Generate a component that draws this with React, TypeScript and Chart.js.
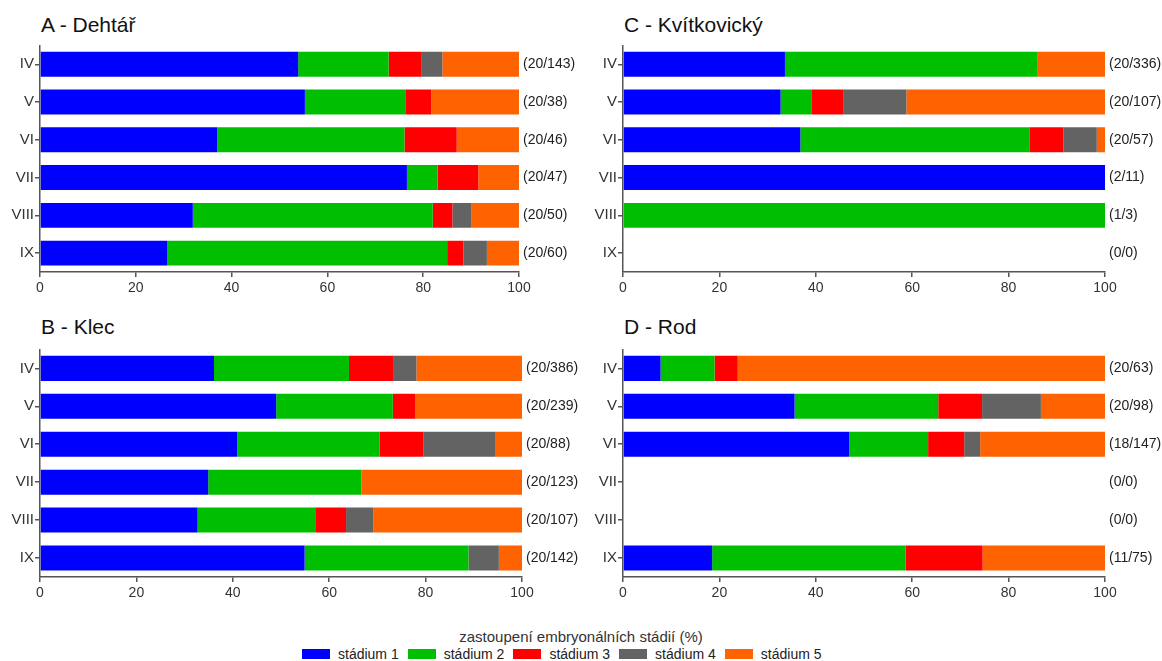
import React, { useEffect, useRef } from "react";
import { Chart, registerables } from "chart.js";

Chart.register(...registerables);

const FONT = "'Liberation Sans', Arial, Helvetica, sans-serif";
Chart.defaults.font.family = FONT;

const months = ["IV", "V", "VI", "VII", "VIII", "IX"];
const stageLabels = ["stádium 1", "stádium 2", "stádium 3", "stádium 4", "stádium 5"];
const stageColors = ["#0000FF", "#00BF00", "#FF0000", "#636363", "#FF6200"];
const xTitle = "zastoupení embryonálních stádií (%)";

// A - Dehtář
const dehtarS1 = [53.9, 55.3, 37.0, 76.6, 31.9, 26.6];
const dehtarS2 = [18.9, 21.1, 39.1, 6.4, 50.1, 58.4];
const dehtarS3 = [6.9, 5.3, 10.9, 8.5, 4.1, 3.4];
const dehtarS4 = [4.3, 0, 0, 0, 3.9, 4.9];
const dehtarS5 = [16.0, 18.3, 13.0, 8.5, 10.0, 6.7];
const dehtarCounts = ["(20/143)", "(20/38)", "(20/46)", "(20/47)", "(20/50)", "(20/60)"];

// B - Klec
const klecS1 = [36.1, 49.0, 40.9, 34.9, 32.7, 54.9];
const klecS2 = [28.0, 24.2, 29.6, 31.8, 24.4, 34.0];
const klecS3 = [9.3, 4.6, 9.1, 0, 6.4, 0];
const klecS4 = [4.7, 0, 14.8, 0, 5.7, 6.3];
const klecS5 = [21.9, 22.2, 5.6, 33.3, 30.8, 4.8];
const klecCounts = ["(20/386)", "(20/239)", "(20/88)", "(20/123)", "(20/107)", "(20/142)"];

// C - Kvítkovický
const kvitS1 = [33.6, 32.7, 36.8, 100, 0, 0];
const kvitS2 = [52.3, 6.5, 47.5, 0, 100, 0];
const kvitS3 = [0, 6.6, 7.1, 0, 0, 0];
const kvitS4 = [0, 13.0, 6.9, 0, 0, 0];
const kvitS5 = [14.1, 41.2, 1.7, 0, 0, 0];
const kvitCounts = ["(20/336)", "(20/107)", "(20/57)", "(2/11)", "(1/3)", "(0/0)"];

// D - Rod
const rodS1 = [7.8, 35.6, 46.9, 0, 0, 18.5];
const rodS2 = [11.2, 29.8, 16.4, 0, 0, 40.1];
const rodS3 = [4.8, 9.1, 7.5, 0, 0, 16.0];
const rodS4 = [0, 12.2, 3.3, 0, 0, 0];
const rodS5 = [76.2, 13.3, 25.9, 0, 0, 25.4];
const rodCounts = ["(20/63)", "(20/98)", "(18/147)", "(0/0)", "(0/0)", "(11/75)"];

type PanelProps = {
  title: string;
  series: number[][];
  counts: string[];
  left: number;
  top: number;
  width: number;
  height: number;
  rightWidth: number;
  titleTop: number;
};

function Panel({ title, series, counts, left, top, width, height, rightWidth, titleTop }: PanelProps) {
  const ref = useRef<HTMLCanvasElement>(null);
  useEffect(() => {
    const axisColor = "#555555";
    const chart = new Chart(ref.current as HTMLCanvasElement, {
      type: "bar",
      data: {
        labels: months,
        datasets: series.map((d, i) => ({
          label: stageLabels[i],
          data: d,
          backgroundColor: stageColors[i],
          borderWidth: 0,
          barPercentage: 0.66,
          categoryPercentage: 1,
        })),
      },
      options: {
        indexAxis: "y",
        responsive: false,
        maintainAspectRatio: false,
        animation: false,
        layout: { padding: { top: 12, left: 0, right: 0, bottom: 0 } },
        plugins: {
          legend: { display: false },
          tooltip: { enabled: false },
          title: { display: false },
        },
        scales: {
          x: {
            stacked: true,
            min: 0,
            max: 100,
            ticks: { stepSize: 20, color: "#333", font: { size: 14 }, padding: 3 },
            grid: { drawOnChartArea: false, drawTicks: true, tickLength: 5, color: axisColor, lineWidth: 1.5 },
            border: { display: true, color: axisColor, width: 1.5 },
            afterFit: (s: any) => {
              s.height = 30;
            },
          },
          y: {
            stacked: true,
            offset: true,
            ticks: { color: "#333", font: { size: 15 }, padding: 1 },
            grid: { offset: false, drawOnChartArea: false, drawTicks: true, tickLength: 5, color: axisColor, lineWidth: 1.5 },
            border: { display: true, color: axisColor, width: 1.5 },
            afterFit: (s: any) => {
              s.width = 40;
            },
          },
          y2: {
            type: "category",
            labels: counts,
            position: "right",
            offset: true,
            grid: { display: false, drawTicks: false, drawOnChartArea: false },
            border: { display: false },
            ticks: { color: "#222", font: { size: 14 }, padding: 4 },
            afterFit: (s: any) => {
              s.width = rightWidth;
            },
          },
        },
      } as any,
    });
    return () => chart.destroy();
  }, []);
  return (
    <>
      <div
        style={{
          position: "absolute",
          left: left + 41,
          top: titleTop,
          fontFamily: FONT,
          fontSize: 21,
          lineHeight: "21px",
          color: "#111",
          whiteSpace: "nowrap",
        }}
      >
        {title}
      </div>
      <canvas
        ref={ref}
        width={width}
        height={height}
        style={{ position: "absolute", left, top, width, height }}
      />
    </>
  );
}

export default function App() {
  return (
    <div
      style={{
        position: "absolute",
        left: 0,
        top: 0,
        width: 1162,
        height: 661,
        background: "#fff",
        overflow: "hidden",
      }}
    >
      <Panel
        title="A - Dehtář"
        series={[dehtarS1, dehtarS2, dehtarS3, dehtarS4, dehtarS5]}
        counts={dehtarCounts}
        left={0}
        top={33}
        width={580}
        height={269}
        rightWidth={61}
        titleTop={14}
      />
      <Panel
        title="B - Klec"
        series={[klecS1, klecS2, klecS3, klecS4, klecS5]}
        counts={klecCounts}
        left={0}
        top={337}
        width={580}
        height={270}
        rightWidth={58}
        titleTop={316}
      />
      <Panel
        title="C - Kvítkovický"
        series={[kvitS1, kvitS2, kvitS3, kvitS4, kvitS5]}
        counts={kvitCounts}
        left={583}
        top={33}
        width={579}
        height={269}
        rightWidth={57}
        titleTop={14}
      />
      <Panel
        title="D - Rod"
        series={[rodS1, rodS2, rodS3, rodS4, rodS5]}
        counts={rodCounts}
        left={583}
        top={337}
        width={579}
        height={270}
        rightWidth={57}
        titleTop={316}
      />
      <div
        style={{
          position: "absolute",
          left: 0,
          width: 1162,
          top: 628,
          textAlign: "center",
          fontFamily: FONT,
          fontSize: 15,
          lineHeight: "17px",
          color: "#333",
        }}
      >
        {xTitle}
      </div>
      <div
        style={{
          position: "absolute",
          left: 302,
          top: 646,
          display: "flex",
          alignItems: "center",
          fontFamily: FONT,
          fontSize: 14,
          lineHeight: "16px",
          color: "#222",
        }}
      >
        {stageLabels.map((lab, i) => (
          <div key={lab} style={{ display: "flex", alignItems: "center", marginRight: 9 }}>
            <div style={{ width: 28, height: 10, background: stageColors[i], marginRight: 8 }} />
            <span style={{ whiteSpace: "nowrap" }}>{lab}</span>
          </div>
        ))}
      </div>
    </div>
  );
}
